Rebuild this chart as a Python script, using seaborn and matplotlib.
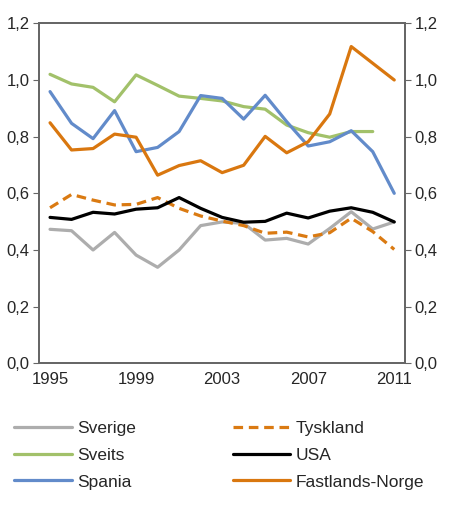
import numpy as np
import pandas as pd
import matplotlib
matplotlib.use('Agg')
import matplotlib.pyplot as plt
import seaborn as sns

# Data
years = list(range(1995, 2012))
sverige = [0.473, 0.468, 0.400, 0.462, 0.382, 0.339, 0.400, 0.486, 0.499, 0.494,
           0.435, 0.441, 0.421, 0.476, 0.535, 0.474, 0.499]
tyskland = [0.549, 0.596, 0.576, 0.559, 0.561, 0.585, 0.547, 0.520, 0.502, 0.486,
            0.459, 0.463, 0.446, 0.461, 0.512, 0.465, 0.402]
sveits = [1.020, 0.986, 0.974, 0.923, 1.018, 0.981, 0.943, 0.935, 0.926, 0.906,
          0.897, 0.841, 0.814, 0.798, 0.818, 0.818, np.nan]
usa = [0.515, 0.508, 0.533, 0.527, 0.544, 0.549, 0.585, 0.547, 0.515, 0.498,
       0.501, 0.530, 0.513, 0.537, 0.549, 0.533, 0.499]
spania = [0.959, 0.847, 0.793, 0.892, 0.747, 0.762, 0.818, 0.945, 0.935, 0.862,
          0.946, 0.853, 0.767, 0.782, 0.821, 0.747, 0.600]
norge = [0.849, 0.753, 0.758, 0.809, 0.798, 0.664, 0.698, 0.715, 0.673, 0.699,
         0.801, 0.743, 0.782, 0.880, 1.118, 1.059, 1.000]

series = {'Sverige': sverige, 'Sveits': sveits, 'Spania': spania,
          'Tyskland': tyskland, 'USA': usa, 'Fastlands-Norge': norge}
colors = {'Sverige': '#ADADAD', 'Sveits': '#A2C16A', 'Spania': '#628BCA',
          'Tyskland': '#DA7A12', 'USA': '#000000', 'Fastlands-Norge': '#D9770F'}
dashes = {'Sverige': '', 'Sveits': '', 'Spania': '',
          'Tyskland': (3, 1.8), 'USA': '', 'Fastlands-Norge': ''}

rows = []
for name, vals in series.items():
    for i, v in enumerate(vals):
        rows.append({'idx': i, 'land': name, 'verdi': v})
df = pd.DataFrame(rows)

sns.set_style('white')
plt.rcParams['font.family'] = ['Liberation Sans', 'DejaVu Sans']

fig = plt.figure(figsize=(4.5, 5.08), dpi=100)
ax = fig.add_axes([0.0873, 0.2848, 0.8127, 0.6693])

sns.lineplot(data=df, x='idx', y='verdi', hue='land', style='land',
             palette=colors, dashes=dashes, hue_order=list(series.keys()),
             style_order=list(series.keys()), linewidth=2.3, ax=ax)

handles, labels = ax.get_legend_handles_labels()
ax.get_legend().remove()

ax.set_xlim(-0.5, len(years) - 0.5)
ax.set_ylim(0, 1.2)
yt = np.arange(0, 1.21, 0.2)
ax.set_yticks(yt)
ax.set_yticklabels([f'{t:.1f}'.replace('.', ',') for t in yt], fontsize=12)
lab_pos = [i for i, y in enumerate(years) if (y - 1995) % 4 == 0]
ax.set_xticks(lab_pos)
ax.set_xticklabels([str(years[i]) for i in lab_pos], fontsize=12)
ax.set_xticks(np.arange(-0.5, len(years)), minor=True)
ax.tick_params(axis='x', which='major', length=0, pad=6)
ax.tick_params(axis='x', which='minor', length=4, color='#666666', direction='out')
ax.tick_params(axis='y', length=4, color='#666666', direction='out', pad=3)
ax.set_xlabel('')
ax.set_ylabel('')

ax2 = ax.twinx()
ax2.set_ylim(0, 1.2)
ax2.set_yticks(yt)
ax2.set_yticklabels([f'{t:.1f}'.replace('.', ',') for t in yt], fontsize=12)
ax2.tick_params(axis='y', length=4, color='#666666', direction='out', pad=3)

for a in (ax, ax2):
    for s in a.spines.values():
        s.set_visible(True)
        s.set_color('#666666')
        s.set_linewidth(1.3)

fig.legend(handles, labels, ncol=2, loc='upper left', bbox_to_anchor=(-0.003, 0.203),
           frameon=False, fontsize=12.5, handlelength=3.3, handletextpad=0.3,
           labelspacing=0.68, columnspacing=5.6)

fig.savefig('out.png', dpi=100)
